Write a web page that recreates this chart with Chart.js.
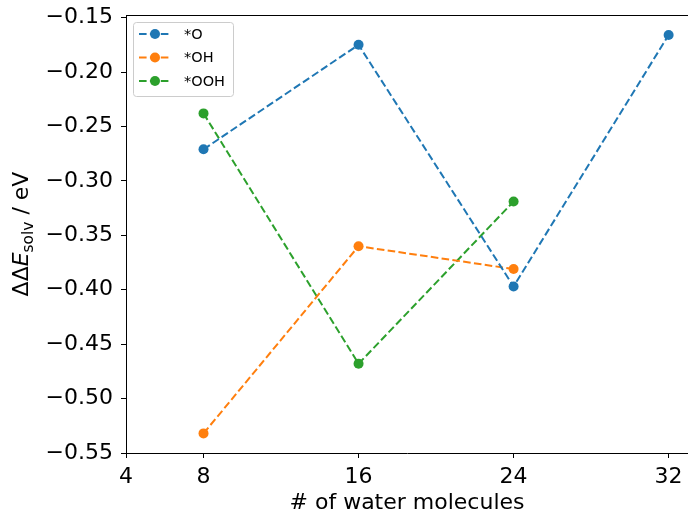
<!DOCTYPE html>
<html lang="en">
<head>
<meta charset="UTF-8">
<title>Solvation energy vs number of water molecules</title>
<script src="https://cdn.jsdelivr.net/npm/chart.js"></script>
<style>
  html, body { margin: 0; padding: 0; background: #fff; }
</style>
</head>
<body>
<canvas id="solvChart" width="688" height="510"></canvas>
<script>
// values
const waterCounts = [8, 16, 24, 32];
const dE_O   = [-0.271, -0.175, -0.397, -0.166];
const dE_OH  = [-0.532, -0.360, -0.381];
const dE_OOH = [-0.238, -0.468, -0.319];
const seriesLabels = ['*O', '*OH', '*OOH'];
const seriesColors = ['#1f77b4', '#ff7f0e', '#2ca02c'];
const xTicks = [4, 8, 16, 24, 32];
const yTicks = [-0.55, -0.50, -0.45, -0.40, -0.35, -0.30, -0.25, -0.20, -0.15];

const FONT = "'DejaVu Sans', sans-serif";

function toPoints(vals) {
    return vals.map((v, i) => ({ x: waterCounts[i], y: v }));
}

function makeSet(label, vals, color) {
    return {
        label: label,
        data: toPoints(vals),
        borderColor: color,
        backgroundColor: color,
        borderWidth: 2,
        borderDash: [7.6, 3.3],
        pointRadius: 5,
        pointHoverRadius: 5,
        pointBorderWidth: 0,
        pointBackgroundColor: color,
        fill: false,
        tension: 0
    };
}

// matplotlib-like legend box (dashed line + marker)
const mplLegend = {
    id: 'mplLegend',
    afterDraw(chart) {
        const ctx = chart.ctx;
        const x0 = chart.chartArea.left + 7;
        const y0 = chart.chartArea.top + 7;
        ctx.save();
        ctx.fillStyle = 'rgba(255,255,255,0.8)';
        ctx.strokeStyle = '#cccccc';
        ctx.lineWidth = 1;
        ctx.beginPath();
        ctx.roundRect(x0 + 0.5, y0 + 0.5, 100, 74, 3);
        ctx.fill();
        ctx.stroke();
        chart.data.datasets.forEach((ds, i) => {
            const cy = y0 + 12 + i * 23.5;
            ctx.strokeStyle = ds.borderColor;
            ctx.lineWidth = 2;
            ctx.setLineDash([7.6, 3.3]);
            ctx.beginPath();
            ctx.moveTo(x0 + 6, cy);
            ctx.lineTo(x0 + 38, cy);
            ctx.stroke();
            ctx.setLineDash([]);
            ctx.fillStyle = ds.borderColor;
            ctx.beginPath();
            ctx.arc(x0 + 22, cy, 5, 0, Math.PI * 2);
            ctx.fill();
            ctx.fillStyle = '#000';
            ctx.font = '14.5px ' + FONT;
            ctx.textBaseline = 'middle';
            ctx.textAlign = 'left';
            ctx.fillText(ds.label, x0 + 51, cy + 1);
        });
        ctx.restore();
    }
};

// top spine, axis titles (y title has italic E and a subscript)
const axisDecor = {
    id: 'axisDecor',
    afterDraw(chart) {
        const ctx = chart.ctx;
        const a = chart.chartArea;
        ctx.save();
        ctx.strokeStyle = '#000';
        ctx.lineWidth = 1;
        ctx.beginPath();
        ctx.moveTo(a.left, a.top + 0.5);
        ctx.lineTo(a.right, a.top + 0.5);
        ctx.stroke();

        ctx.fillStyle = '#000';
        ctx.textBaseline = 'alphabetic';
        ctx.textAlign = 'center';
        ctx.font = '22px ' + FONT;
        ctx.fillText('# of water molecules', (a.left + a.right) / 2, 509);

        const parts = [
            { t: '\u0394\u0394', f: '22px ' + FONT, dy: 0 },
            { t: 'E', f: 'italic 22px ' + FONT, dy: 0 },
            { t: 'solv', f: '15.4px ' + FONT, dy: 5 },
            { t: ' / eV', f: '22px ' + FONT, dy: 0 }
        ];
        let total = 0;
        parts.forEach(p => { ctx.font = p.f; p.w = ctx.measureText(p.t).width; total += p.w; });
        ctx.translate(28, (a.top + a.bottom) / 2);
        ctx.rotate(-Math.PI / 2);
        ctx.textAlign = 'left';
        let x = -total / 2;
        parts.forEach(p => {
            ctx.font = p.f;
            ctx.fillText(p.t, x, p.dy);
            x += p.w;
        });
        ctx.restore();
    }
};

new Chart(document.getElementById('solvChart'), {
    type: 'line',
    data: {
        datasets: [
            makeSet(seriesLabels[0], dE_O, seriesColors[0]),
            makeSet(seriesLabels[1], dE_OH, seriesColors[1]),
            makeSet(seriesLabels[2], dE_OOH, seriesColors[2])
        ]
    },
    options: {
        responsive: false,
        animation: false,
        layout: { autoPadding: false, padding: { top: 15, right: 0, left: 0, bottom: 0 } },
        plugins: {
            legend: { display: false },
            tooltip: { enabled: false }
        },
        scales: {
            x: {
                type: 'linear',
                min: 4,
                max: 33,
                afterBuildTicks: s => { s.ticks = xTicks.map(v => ({ value: v })); },
                afterFit: s => { s.height = 57; s.paddingLeft = 0; s.paddingRight = 0; },
                ticks: {
                    autoSkip: false,
                    maxRotation: 0,
                    padding: 6,
                    color: '#000',
                    font: { size: 22, family: FONT },
                    callback: v => String(v)
                },
                grid: { drawOnChartArea: false, drawTicks: true, tickLength: 5, tickColor: '#000', tickWidth: 1 },
                border: { display: true, color: '#000', width: 1 }
            },
            y: {
                type: 'linear',
                min: -0.55,
                max: -0.1476,
                afterBuildTicks: s => { s.ticks = yTicks.map(v => ({ value: v })); },
                afterFit: s => { s.width = 126; s.paddingTop = 0; s.paddingBottom = 0; },
                ticks: {
                    autoSkip: false,
                    padding: 8,
                    color: '#000',
                    font: { size: 22, family: FONT },
                    callback: v => v.toFixed(2).replace('-', '\u2212')
                },
                grid: { drawOnChartArea: false, drawTicks: true, tickLength: 5, tickColor: '#000', tickWidth: 1 },
                border: { display: true, color: '#000', width: 1 }
            }
        }
    },
    plugins: [mplLegend, axisDecor]
});
</script>
</body>
</html>
